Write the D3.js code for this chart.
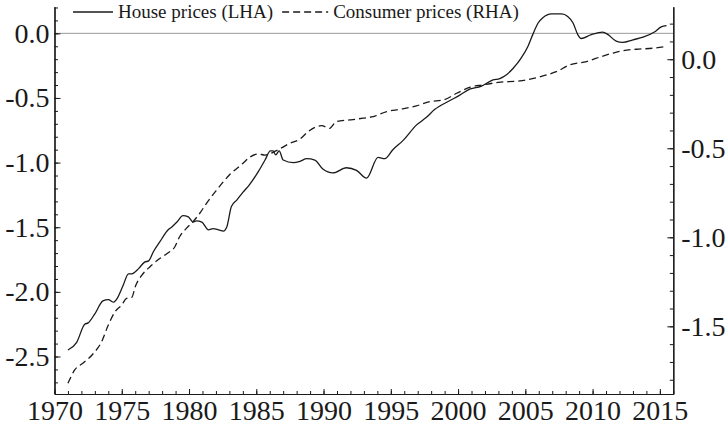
<!DOCTYPE html>
<html>
<head>
<meta charset="utf-8">
<script src="https://cdn.jsdelivr.net/npm/d3@7"></script>
<style>
  html, body { margin: 0; padding: 0; background: #fff; }
  svg { display: block; }
  text { font-family: "Liberation Serif", "Times New Roman", serif; fill: #1a1a1a; }
</style>
</head>
<body>
<svg id="chart" width="725" height="426"></svg>
<script>
// ---- data ----
const houseYears = [1971.0,1971.65,1972.25,1972.5,1973.0,1973.6,1974.0,1974.4,1974.6,1975.1,1975.5,1975.75,1976.25,1976.7,1977.0,1977.35,1977.85,1978.45,1978.7,1979.1,1979.55,1979.95,1980.3,1980.55,1980.95,1981.45,1981.8,1982.2,1982.55,1982.8,1983.15,1983.55,1984.0,1984.5,1985.15,1985.65,1986.05,1986.25,1986.45,1986.7,1987.0,1987.75,1988.25,1988.75,1989.35,1989.95,1990.7,1991.7,1992.45,1993.2,1994.05,1994.55,1995.15,1995.9,1996.9,1997.65,1998.25,1999.4,2000.1,2000.9,2001.7,2002.6,2003.1,2003.6,2004.1,2004.7,2005.2,2005.55,2005.95,2006.3,2006.95,2007.7,2008.15,2008.55,2008.9,2009.15,2009.9,2010.75,2011.15,2011.75,2012.25,2013.0,2013.75,2014.6,2015.1,2015.5];
const houseValues = [-2.45,-2.39,-2.25,-2.24,-2.17,-2.07,-2.06,-2.08,-2.06,-1.95,-1.86,-1.86,-1.82,-1.77,-1.76,-1.69,-1.61,-1.52,-1.50,-1.46,-1.41,-1.42,-1.46,-1.45,-1.46,-1.52,-1.51,-1.52,-1.53,-1.50,-1.34,-1.29,-1.23,-1.17,-1.07,-0.98,-0.91,-0.91,-0.94,-0.91,-0.98,-1.00,-0.99,-0.97,-0.98,-1.05,-1.08,-1.04,-1.06,-1.12,-0.96,-0.97,-0.90,-0.83,-0.71,-0.65,-0.59,-0.52,-0.48,-0.43,-0.41,-0.36,-0.35,-0.32,-0.27,-0.19,-0.10,-0.01,0.08,0.12,0.15,0.15,0.13,0.08,-0.01,-0.04,-0.01,0.01,-0.01,-0.06,-0.07,-0.05,-0.03,0.01,0.05,0.06];

const cpiYears = [1971.0,1971.5,1972.15,1972.9,1973.5,1974.0,1974.5,1975.0,1975.35,1975.75,1976.0,1976.5,1977.1,1977.85,1978.45,1978.95,1979.3,1979.8,1980.3,1980.8,1981.3,1982.0,1983.0,1984.0,1984.5,1985.15,1985.65,1986.5,1987.5,1988.25,1988.85,1989.85,1990.45,1990.95,1991.95,1992.95,1993.7,1994.7,1995.7,1996.9,1997.9,1998.9,1999.9,2000.9,2001.85,2003.0,2004.6,2005.95,2007.3,2008.3,2009.55,2010.65,2011.5,2012.25,2013.25,2014.5,2015.35];
const cpiValues = [-1.82,-1.745,-1.705,-1.652,-1.587,-1.493,-1.418,-1.380,-1.343,-1.337,-1.278,-1.212,-1.165,-1.118,-1.087,-1.053,-0.997,-0.95,-0.912,-0.865,-0.809,-0.74,-0.65,-0.585,-0.551,-0.532,-0.538,-0.513,-0.472,-0.448,-0.407,-0.373,-0.388,-0.35,-0.341,-0.331,-0.322,-0.294,-0.281,-0.262,-0.238,-0.229,-0.191,-0.157,-0.144,-0.13,-0.122,-0.101,-0.07,-0.032,-0.013,0.015,0.034,0.048,0.056,0.062,0.071];

const xMajorTicks = [1970,1975,1980,1985,1990,1995,2000,2005,2010,2015];
const leftMajorTicks = [0.0,-0.5,-1.0,-1.5,-2.0,-2.5];
const rightMajorTicks = [0.0,-0.5,-1.0,-1.5];
const legendLabels = ["House prices (LHA)", "Consumer prices (RHA)"];

// ---- layout ----
const plotL = 54.5, plotR = 673.3, plotT = 6.7, plotB = 394;
const tickFont = "28px";
const svg = d3.select("#chart");

const x = d3.scaleLinear().domain([1970, 2016]).range([plotL, plotR]);
const yL = d3.scaleLinear().domain([-2.79, 0.206]).range([plotB, plotT]);
const yR = d3.scaleLinear().domain([-1.88, 0.295]).range([plotB, plotT]);

const fmt = v => (Math.abs(v) < 1e-9 ? 0 : v).toFixed(1);
const xMinor = d3.range(1970, 2017, 1);
const lMinor = d3.range(-27, 3, 1).map(d => d / 10);
const rMinor = d3.range(-18, 3, 1).map(d => d / 10);

// zero reference line (left axis)
svg.append("line")
  .attr("x1", plotL).attr("x2", plotR)
  .attr("y1", yL(0)).attr("y2", yL(0))
  .attr("stroke", "#9a9a9a").attr("stroke-width", 1);

function styleAxis(g) {
  g.selectAll("path.domain").attr("stroke", "#1a1a1a").attr("stroke-width", 1.2);
  g.selectAll(".tick line").attr("stroke", "#1a1a1a").attr("stroke-width", 1);
}
function styleLabels(g) {
  g.select("path.domain").remove();
  g.attr("font-family", "Liberation Serif");
  g.selectAll("text").style("font-size", tickFont).style("font-family", "Liberation Serif").attr("fill", "#1a1a1a");
}

// left axis: inward ticks + outside labels
const gl = svg.append("g").attr("transform", `translate(${plotL},0)`);
gl.append("g").call(d3.axisRight(yL).tickValues(lMinor).tickSize(3.5).tickSizeOuter(0).tickFormat("")).call(styleAxis);
gl.append("g").call(d3.axisRight(yL).tickValues(leftMajorTicks).tickSize(6).tickSizeOuter(0).tickFormat("")).call(styleAxis);
gl.append("g").call(d3.axisLeft(yL).tickValues(leftMajorTicks).tickSize(0).tickPadding(5).tickFormat(fmt)).call(styleLabels);

// right axis
const gr = svg.append("g").attr("transform", `translate(${plotR},0)`);
gr.append("g").call(d3.axisLeft(yR).tickValues(rMinor).tickSize(3.5).tickSizeOuter(0).tickFormat("")).call(styleAxis);
gr.append("g").call(d3.axisLeft(yR).tickValues(rightMajorTicks).tickSize(6).tickSizeOuter(0).tickFormat("")).call(styleAxis);
gr.append("g").call(d3.axisRight(yR).tickValues(rightMajorTicks).tickSize(0).tickPadding(8).tickFormat(fmt)).call(styleLabels);

// bottom axis
const gb = svg.append("g").attr("transform", `translate(0,${plotB})`);
gb.append("g").call(d3.axisTop(x).tickValues(xMinor).tickSize(3).tickSizeOuter(0).tickFormat("")).call(styleAxis);
gb.append("g").call(d3.axisTop(x).tickValues(xMajorTicks).tickSize(5).tickSizeOuter(0).tickFormat("")).call(styleAxis);
gb.append("g").call(d3.axisBottom(x).tickValues(xMajorTicks).tickSize(0).tickPadding(6).tickFormat(d3.format("d"))).call(styleLabels);

// series
const houseData = houseYears.map((t, i) => ({ t, v: houseValues[i] }));
const cpiData = cpiYears.map((t, i) => ({ t, v: cpiValues[i] }));

svg.append("path").datum(houseData)
  .attr("fill", "none").attr("stroke", "#1a1a1a").attr("stroke-width", 1.3)
  .attr("stroke-linejoin", "round")
  .attr("d", d3.line().x(d => x(d.t)).y(d => yL(d.v)).curve(d3.curveMonotoneX));

svg.append("path").datum(cpiData)
  .attr("fill", "none").attr("stroke", "#1a1a1a").attr("stroke-width", 1.3)
  .attr("stroke-dasharray", "7,4")
  .attr("d", d3.line().x(d => x(d.t)).y(d => yR(d.v)).curve(d3.curveMonotoneX));

// legend
const lg = svg.append("g");
const ly = 12;
lg.append("line").attr("x1", 73).attr("x2", 113).attr("y1", ly).attr("y2", ly)
  .attr("stroke", "#1a1a1a").attr("stroke-width", 1.3);
const t1 = lg.append("text").attr("x", 118).attr("y", ly + 6)
  .style("font-size", "19px").text(legendLabels[0]);
const t1end = 118 + t1.node().getComputedTextLength();
lg.append("line").attr("x1", t1end + 9).attr("x2", t1end + 55).attr("y1", ly).attr("y2", ly)
  .attr("stroke", "#1a1a1a").attr("stroke-width", 1.3).attr("stroke-dasharray", "7,4");
lg.append("text").attr("x", t1end + 60).attr("y", ly + 6)
  .style("font-size", "19px").text(legendLabels[1]);
</script>
</body>
</html>
